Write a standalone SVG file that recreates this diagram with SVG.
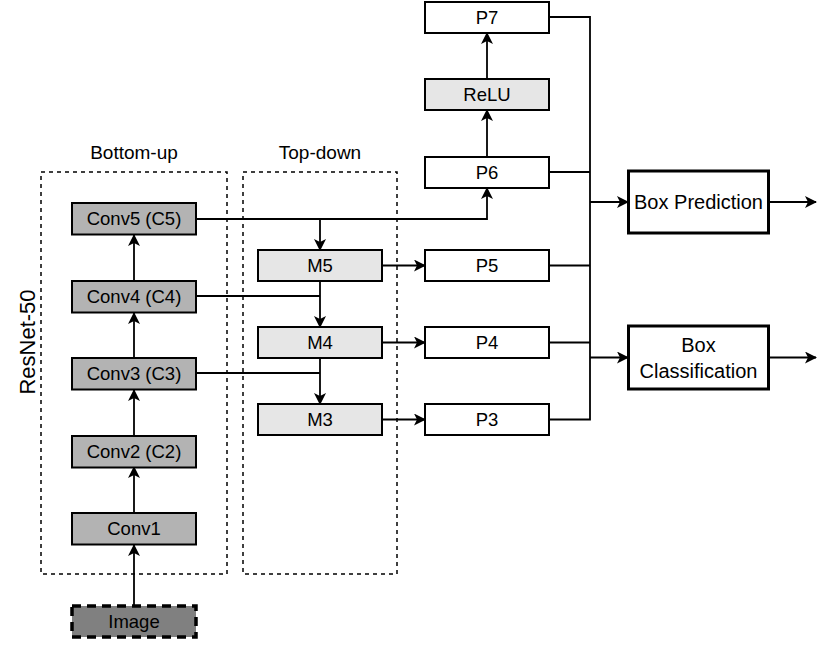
<svg xmlns="http://www.w3.org/2000/svg" width="830" height="645" viewBox="0 0 830 645">
<defs>
<marker id="arr" viewBox="0 0 12 12" refX="11" refY="6" markerWidth="12" markerHeight="12" markerUnits="userSpaceOnUse" orient="auto">
<path d="M0,0 L12,6 L0,12 L3,6 Z" fill="#000"/>
</marker>
</defs>
<style>
text{font-family:"Liberation Sans",Arial,sans-serif;font-size:18.5px;fill:#000;text-anchor:middle}
.n rect{stroke:#000;stroke-width:2}
.conv{fill:#b3b3b3}
.m{fill:#e6e6e6}
.p{fill:#fff}
.big{fill:#fff;stroke:#000;stroke-width:3}
.bt{font-size:20px}
.cont{fill:none;stroke:#000;stroke-width:1.5;stroke-dasharray:4 4}
.lbl{font-size:19px}
#edges path{fill:none;stroke:#000;stroke-width:1.8}
</style>
<rect class="cont" x="41" y="172" width="186" height="402"/>
<rect class="cont" x="243" y="172" width="154" height="402"/>
<text class="lbl" x="134" y="159">Bottom-up</text>
<text class="lbl" x="320" y="159">Top-down</text>
<text transform="translate(35,342) rotate(-90)" style="font-size:22px">ResNet-50</text>
<g id="edges">
<path d="M134,605 L134,545" marker-end="url(#arr)"/>
<path d="M134,513 L134,467" marker-end="url(#arr)"/>
<path d="M134,436 L134,390" marker-end="url(#arr)"/>
<path d="M134,358 L134,313" marker-end="url(#arr)"/>
<path d="M134,281 L134,235" marker-end="url(#arr)"/>
<path d="M196,219 L487,219 L487,188" marker-end="url(#arr)"/>
<path d="M320,219 L320,250" marker-end="url(#arr)"/>
<path d="M196,296 L320,296"/>
<path d="M320,281 L320,327" marker-end="url(#arr)"/>
<path d="M196,373 L320,373"/>
<path d="M320,358 L320,404" marker-end="url(#arr)"/>
<path d="M382,265.5 L425,265.5" marker-end="url(#arr)"/>
<path d="M382,342.5 L425,342.5" marker-end="url(#arr)"/>
<path d="M382,419.5 L425,419.5" marker-end="url(#arr)"/>
<path d="M487,157 L487,110" marker-end="url(#arr)"/>
<path d="M487,79 L487,33" marker-end="url(#arr)"/>
<path d="M549,17 L590,17 L590,419.5 L549,419.5"/>
<path d="M549,172 L590,172"/>
<path d="M549,265.5 L590,265.5"/>
<path d="M549,342.5 L590,342.5"/>
<path d="M590,202 L628,202" marker-end="url(#arr)"/>
<path d="M590,357.5 L628,357.5" marker-end="url(#arr)"/>
<path d="M769,202 L816,202" marker-end="url(#arr)"/>
<path d="M769,357.5 L816,357.5" marker-end="url(#arr)"/>
</g>
<g id="image" class="n"><rect x="72" y="606" width="124" height="31" style="fill:#808080;stroke-width:3.5;stroke-dasharray:9 6"/><text x="134" y="628">Image</text></g>
<g id="conv1" class="n"><rect class="conv" x="72" y="513" width="124" height="31.5"/><text x="134" y="535">Conv1</text></g>
<g id="conv2" class="n"><rect class="conv" x="72" y="436" width="124" height="31.5"/><text x="134" y="458">Conv2 (C2)</text></g>
<g id="conv3" class="n"><rect class="conv" x="72" y="358" width="124" height="31.5"/><text x="134" y="380">Conv3 (C3)</text></g>
<g id="conv4" class="n"><rect class="conv" x="72" y="281" width="124" height="31.5"/><text x="134" y="303">Conv4 (C4)</text></g>
<g id="conv5" class="n"><rect class="conv" x="72" y="203" width="124" height="31.5"/><text x="134" y="225">Conv5 (C5)</text></g>
<g id="m5" class="n"><rect class="m" x="258" y="250" width="124" height="31"/><text x="320" y="272">M5</text></g>
<g id="m4" class="n"><rect class="m" x="258" y="327" width="124" height="31"/><text x="320" y="349">M4</text></g>
<g id="m3" class="n"><rect class="m" x="258" y="404" width="124" height="31"/><text x="320" y="426">M3</text></g>
<g id="p5" class="n"><rect class="p" x="425" y="250" width="124" height="31"/><text x="487" y="272">P5</text></g>
<g id="p4" class="n"><rect class="p" x="425" y="327" width="124" height="31"/><text x="487" y="349">P4</text></g>
<g id="p3" class="n"><rect class="p" x="425" y="404" width="124" height="31"/><text x="487" y="426">P3</text></g>
<g id="p6" class="n"><rect class="p" x="425" y="157" width="124" height="31"/><text x="487" y="179">P6</text></g>
<g id="relu" class="n"><rect class="m" x="425" y="79" width="124" height="31"/><text x="487" y="101">ReLU</text></g>
<g id="p7" class="n"><rect class="p" x="425" y="2" width="124" height="31"/><text x="487" y="24">P7</text></g>
<g id="boxpred"><rect class="big" x="628.5" y="171" width="140" height="62"/><text class="bt" x="698.5" y="209">Box Prediction</text></g>
<g id="boxcls"><rect class="big" x="628.5" y="326" width="140" height="63"/><text class="bt" x="698.5" y="352">Box</text><text class="bt" x="698.5" y="378">Classification</text></g>
</svg>
